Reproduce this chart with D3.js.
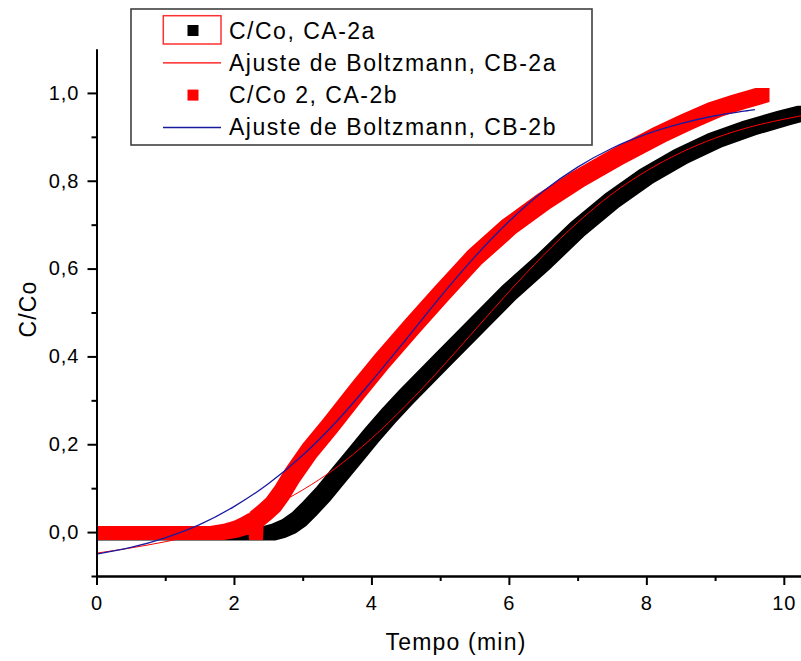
<!DOCTYPE html>
<html>
<head>
<meta charset="utf-8">
<script src="https://cdn.jsdelivr.net/npm/d3@7"></script>
<style>
  body { margin: 0; background: #fff; }
  svg text { font-family: "Liberation Sans", Arial, sans-serif; fill: #000; }
</style>
</head>
<body>
<div id="chart"></div>
<script>
// black data, C/Co CA-2a
var tA = [0, 1, 2, 2.5, 2.65, 2.8, 2.95, 3.1, 3.3, 3.5, 3.75, 4.0, 4.25, 4.5, 5.0, 5.5, 6.0, 6.5, 7.0, 7.5, 8.0, 8.5, 9.0, 9.5, 10.0, 10.3];
var yA = [-0.003, -0.003, -0.003, -0.003, 0.003, 0.013, 0.03, 0.053, 0.087, 0.125, 0.172, 0.22, 0.265, 0.307, 0.387, 0.466, 0.545, 0.615, 0.69, 0.755, 0.81, 0.855, 0.892, 0.92, 0.943, 0.955];

// red data, C/Co 2 CA-2b
var tB = [0, 1, 1.75, 1.95, 2.1, 2.2, 2.31, 2.32, 2.33, 2.45, 2.57, 2.7, 2.846, 3.1, 3.4, 3.8, 4.145, 4.6, 5.0, 5.5, 6.0, 6.5, 7.0, 7.56, 8.19, 8.6, 9.0, 9.35, 9.69];
var yB = [-0.002, -0.002, -0.002, 0.003, 0.01, 0.017, 0.027, -0.002, 0.03, 0.045, 0.062, 0.09, 0.128, 0.185, 0.242, 0.322, 0.388, 0.47, 0.54, 0.625, 0.695, 0.752, 0.803, 0.853, 0.905, 0.935, 0.962, 0.98, 0.995];

// Boltzmann fits
var tFitA = [0, 0.5, 1, 1.5, 2, 2.5, 3, 3.5, 4, 4.5, 5, 5.5, 6, 6.5, 7, 7.5, 8, 8.5, 9, 9.5, 10, 10.25];
var fitA = [-0.048, -0.036, -0.022, -0.004, 0.021, 0.054, 0.096, 0.148, 0.213, 0.288, 0.371, 0.459, 0.547, 0.630, 0.705, 0.770, 0.822, 0.864, 0.897, 0.922, 0.940, 0.948];
var tFitB = [0, 0.5, 1, 1.5, 2, 2.5, 3, 3.5, 4, 4.5, 5, 5.5, 6, 6.5, 7, 7.5, 8, 8.5, 9, 9.5, 9.58];
var fitB = [-0.050, -0.035, -0.013, 0.017, 0.058, 0.110, 0.175, 0.253, 0.343, 0.438, 0.535, 0.626, 0.707, 0.776, 0.831, 0.874, 0.906, 0.930, 0.948, 0.960, 0.962];

var xMajor = [0, 2, 4, 6, 8, 10],
    xMinor = [1, 3, 5, 7, 9],
    yMajor = [0, 0.2, 0.4, 0.6, 0.8, 1.0],
    yMinor = [-0.1, 0.1, 0.3, 0.5, 0.7, 0.9];

var legendNames = ["C/Co, CA-2a", "Ajuste de Boltzmann, CB-2a", "C/Co 2, CA-2b", "Ajuste de Boltzmann, CB-2b"],
    legendKinds = ["square", "line", "square", "line"],
    legendColors = ["#000000", "#ff0000", "#ff0000", "#1a1aa0"];

// set the dimensions and margins of the graph
var margin = {top: 49, right: 0, bottom: 85, left: 96.5},
    width = 801 - margin.left - margin.right,
    height = 661 - margin.top - margin.bottom;

var svg0 = d3.select("#chart").append("svg")
    .attr("width", 801)
    .attr("height", 661)
    .style("display", "block");

svg0.append("rect").attr("width", 801).attr("height", 661).attr("fill", "#fff");

var svg = svg0.append("g")
    .attr("transform", "translate(" + margin.left + "," + margin.top + ")");

var x = d3.scaleLinear().domain([0, 10.25]).range([0, width]);
var y = d3.scaleLinear().domain([-0.1, 1.1]).range([height, 0]);

svg.append("clipPath").attr("id", "plotclip")
  .append("rect")
    .attr("x", 0).attr("y", -20)
    .attr("width", width + 20).attr("height", height + 20);

var plot = svg.append("g").attr("clip-path", "url(#plotclip)");

// thick band made of square markers: hull of two squares per segment
function bandPath(ts, ys, size) {
    var h = size / 2;
    var pts = ts.map(function(t, i) { return [x(t), y(ys[i])]; });
    var d = "";
    for (var i = 0; i < pts.length - 1; i++) {
        var c = [];
        [pts[i], pts[i + 1]].forEach(function(p) {
            c.push([p[0] - h, p[1] - h], [p[0] + h, p[1] - h],
                   [p[0] + h, p[1] + h], [p[0] - h, p[1] + h]);
        });
        var hull = d3.polygonHull(c);
        d += "M" + hull.join("L") + "Z";
    }
    return d;
}

var fitLine = d3.line()
    .x(function(d) { return x(d[0]); })
    .y(function(d) { return y(d[1]); })
    .curve(d3.curveMonotoneX);

// black data
plot.append("path")
    .attr("d", bandPath(tA, yA, 14))
    .attr("fill", "#000");

// red fit over black data
plot.append("path")
    .datum(tFitA.map(function(t, i) { return [t, fitA[i]]; }))
    .attr("d", fitLine)
    .attr("fill", "none")
    .attr("stroke", "#ff0000")
    .attr("stroke-width", 1);

// red data
plot.append("path")
    .attr("d", bandPath(tB, yB, 14))
    .attr("fill", "#ff0000");

// blue fit
plot.append("path")
    .datum(tFitB.map(function(t, i) { return [t, fitB[i]]; }))
    .attr("d", fitLine)
    .attr("fill", "none")
    .attr("stroke", "#1a1aa0")
    .attr("stroke-width", 1.3);

// axes
function styleAxis(g) {
    g.selectAll("path, line").attr("stroke", "#000").attr("stroke-width", 2);
    g.selectAll("text")
        .attr("fill", "#000")
        .style("font-size", "20px")
        .style("letter-spacing", "1px")
        .style("font-family", "'Liberation Sans', Arial, sans-serif");
}

svg.append("g")
    .attr("transform", "translate(0," + height + ")")
    .call(d3.axisBottom(x).tickValues(xMajor).tickSize(9).tickSizeOuter(0).tickPadding(11)
        .tickFormat(d3.format("d")))
    .call(styleAxis);

svg.append("g")
    .attr("transform", "translate(0," + height + ")")
    .call(d3.axisBottom(x).tickValues(xMinor).tickSize(5).tickSizeOuter(0).tickFormat(""))
    .call(styleAxis);

svg.append("g")
    .call(d3.axisLeft(y).tickValues(yMajor).tickSize(9).tickSizeOuter(0).tickPadding(8)
        .tickFormat(function(d) { return d.toFixed(1).replace(".", ","); }))
    .call(styleAxis);

svg.append("g")
    .call(d3.axisLeft(y).tickValues(yMinor).tickSize(5).tickSizeOuter(0).tickFormat(""))
    .call(styleAxis);

// axis titles
svg0.append("text")
    .attr("x", 456)
    .attr("y", 650)
    .attr("text-anchor", "middle")
    .style("font-size", "23px")
    .style("letter-spacing", "1.2px")
    .text("Tempo (min)");

svg0.append("text")
    .attr("transform", "translate(36,309) rotate(-90)")
    .attr("text-anchor", "middle")
    .style("font-size", "23px")
    .style("letter-spacing", "1.2px")
    .text("C/Co");

// legend
var legend = svg0.append("g").attr("transform", "translate(131,9)");

legend.append("rect")
    .attr("width", 461)
    .attr("height", 136)
    .attr("fill", "#fff")
    .attr("stroke", "#404040")
    .attr("stroke-width", 1.6);

var rowH = 32.3;
var item = legend.selectAll(".item")
    .data(legendNames)
    .enter().append("g")
    .attr("class", "item")
    .attr("transform", function(d, i) { return "translate(0," + (21.5 + i * rowH) + ")"; });

item.filter(function(d, i) { return legendKinds[i] === "square"; })
  .append("rect")
    .attr("x", 56.5).attr("y", -5.5)
    .attr("width", 11).attr("height", 11)
    .attr("fill", function(d) { return legendColors[legendNames.indexOf(d)]; });

item.filter(function(d, i) { return legendKinds[i] === "line"; })
  .append("line")
    .attr("x1", 32).attr("x2", 90)
    .attr("stroke", function(d) { return legendColors[legendNames.indexOf(d)]; })
    .attr("stroke-width", function(d) { return legendNames.indexOf(d) === 3 ? 1.5 : 1.2; });

// highlight box around the first symbol
legend.append("rect")
    .attr("x", 32.3).attr("y", 6.7)
    .attr("width", 57.7).attr("height", 28.3)
    .attr("fill", "none")
    .attr("stroke", "#ff3030")
    .attr("stroke-width", 1.5);

item.append("text")
    .attr("x", 98)
    .attr("y", 8)
    .style("font-size", "23px")
    .style("letter-spacing", "1.5px")
    .text(function(d) { return d; });
</script>
</body>
</html>
